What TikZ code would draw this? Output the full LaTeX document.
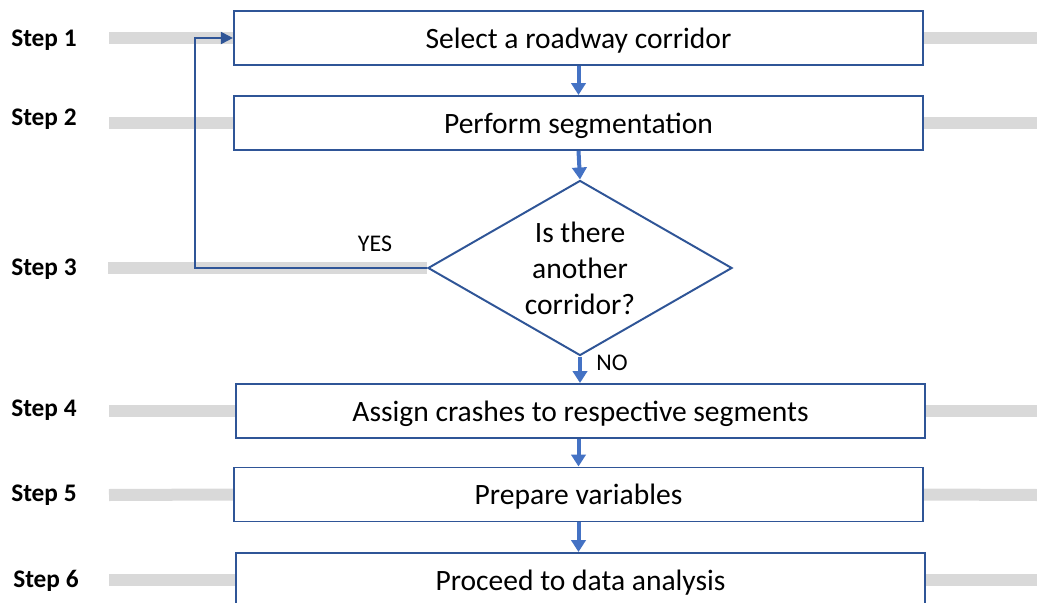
\documentclass[tikz,border=0pt]{standalone}
\usepackage{fontspec}
\setmainfont{Carlito}
\usetikzlibrary{shapes.geometric,arrows.meta,backgrounds}

\definecolor{boxblue}{HTML}{2F5597}
\definecolor{arrblue}{HTML}{4472C4}
\definecolor{bargray}{HTML}{D9D9D9}

\tikzset{
  stepbox/.style={shape=rectangle,draw=boxblue,line width=1.4pt,fill=white,
    minimum width=17.225cm,minimum height=1.35cm,inner sep=0pt,text depth=0pt,
    font=\fontsize{21}{25.5}\selectfont},
  decision/.style={shape=diamond,draw=boxblue,line width=1.4pt,fill=white,
    aspect=1.74,minimum width=7.6cm,minimum height=4.375cm,inner sep=0pt,
    align=center,font=\fontsize{21}{25.5}\selectfont},
  steplabel/.style={anchor=west,inner sep=0pt,font=\fontsize{18}{21}\selectfont\bfseries},
  answer/.style={inner sep=0pt,font=\fontsize{17}{20}\selectfont},
  bar/.style={draw=bargray,line width=0.3cm},
  flow/.style={draw=arrblue,line width=0.1cm,-{Triangle[width=0.36cm,length=0.3cm]}},
  back/.style={draw=boxblue,line width=1.4pt,-{Triangle[width=0.3cm,length=0.3cm]}}
}

\begin{document}
\begin{tikzpicture}[x=0.025cm,y=-0.025cm]
\useasboundingbox (0,0) rectangle (1037,603);
\clip (0,0) rectangle (1037,603);

% process boxes and the decision
\node[stepbox] (b1) at (578.5,38) {Select a roadway corridor};
\node[stepbox] (b2) at (578.5,123) {Perform segmentation};
\node[decision] (d3) at (580,268) {Is there\\another\\corridor?};
\node[stepbox] (b4) at (580.5,411) {Assign crashes to respective segments};
\node[stepbox] (b5) at (578.5,494.5) {Prepare variables};
\node[stepbox] (b6) at (580.5,580) {Proceed to data analysis};

% step labels
\node[steplabel] (s1) at (11,40) {Step 1};
\node[steplabel] (s2) at (11,119) {Step 2};
\node[steplabel] (s3) at (11,269) {Step 3};
\node[steplabel] (s4) at (11,410) {Step 4};
\node[steplabel] (s5) at (11,495) {Step 5};
\node[steplabel] (s6) at (13,581) {Step 6};

% gray guide bars
\coordinate (l1) at (109,38);
\coordinate (r1) at (1037,38);
\coordinate (l2) at (109,123);
\coordinate (r2) at (1037,123);
\coordinate (l3) at (108,268);
\coordinate (l4) at (109,411);
\coordinate (r4) at (1037,411);
\coordinate (l5) at (109,495);
\coordinate (r5) at (1037,495);
\coordinate (l6) at (109,580);
\coordinate (r6) at (1037,580);
\begin{scope}[on background layer]
\path[bar] (l1) -- (b1.west) (b1.east) -- (r1);
\path[bar] (l2) -- (b2.west) (b2.east) -- (r2);
\path[bar] (l3) -- (d3.west);
\path[bar] (l4) -- (b4.west) (b4.east) -- (r4);
\path[bar] (l5) -- (b5.west) (b5.east) -- (r5);
\path[bar] (l6) -- (b6.west) (b6.east) -- (r6);
\end{scope}

% flow arrows
\path[flow] (b1.south) -- (b2.north);
\path[flow] (b2.south) -- (d3.north);
\path[flow] (d3.south) -- (b4.north -| d3.south);
\path[flow] (b4.south -| b5.north) -- (b5.north);
\path[flow] (b5.south) -- (b6.north -| b5.south);

% loop back to the first step
\path[back] (d3.west) -- ++(-232,0) |- (b1.west);
\node[answer] (yes) at (375,244) {YES};
\node[answer] (no) at (612,363) {NO};
\end{tikzpicture}
\end{document}
